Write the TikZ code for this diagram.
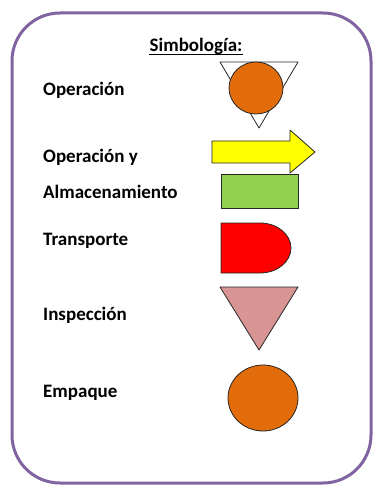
\documentclass[tikz,border=0pt]{standalone}
\usepackage{fontspec}
\setmainfont{Carlito}
\definecolor{frame}{RGB}{128,100,162}
\definecolor{orng}{RGB}{227,108,10}
\definecolor{yel}{RGB}{255,255,0}
\definecolor{grn}{RGB}{146,208,80}
\definecolor{rd}{RGB}{255,0,0}
\definecolor{pnk}{RGB}{217,149,148}
\tikzset{
  lbl/.style={anchor=base west, inner sep=0pt, font=\fontsize{19}{21}\selectfont\bfseries},
  sym/.style={draw=black!85, line width=0.8pt, line join=round},
}
\begin{document}
\begin{tikzpicture}[x=1pt,y=-1pt]
\useasboundingbox (0,0) rectangle (373,489);
\draw[frame, line width=3pt, rounded corners=48pt] (12,13) rectangle (371,483);
% title
\node[anchor=base, inner sep=0pt, font=\fontsize{19}{21}\selectfont\bfseries] (title) at (196,52) {Simbología:};
\draw[line width=1pt] ([yshift=-2.5pt]title.base west) -- ([yshift=-2.5pt]title.base east);
% labels
\node[lbl] (l1) at (43,96) {Operación};
\node[lbl] (l2) at (43,162) {Operación y};
\node[lbl] (l3) at (43,198) {Almacenamiento};
\node[lbl] (l4) at (43,245) {Transporte};
\node[lbl] (l5) at (43,320) {Inspección};
\node[lbl] (l6) at (43,397) {Empaque};
% operation symbol
\draw[sym, fill=white] (220,62) -- (298,62) -- (259,128) -- cycle;
\draw[sym, fill=orng] (256,88) ellipse [x radius=27, y radius=26];
% arrow
\draw[sym, fill=yel] (212,141) -- (290,141) -- (290,130) -- (315,152) -- (290,173) -- (290,163) -- (212,163) -- cycle;
% rectangle
\draw[sym, fill=grn] (221,174) rectangle (298,208);
% D shape
\draw[sym, fill=rd] (221,223) -- (260,223) arc[start angle=-90, end angle=90, x radius=31, y radius=25] -- (221,273) -- cycle;
% inspection triangle
\draw[sym, fill=pnk] (220,287) -- (298,287) -- (259,350) -- cycle;
% empaque circle
\draw[sym, fill=orng] (263,398) ellipse [x radius=35, y radius=33];
\end{tikzpicture}
\end{document}
